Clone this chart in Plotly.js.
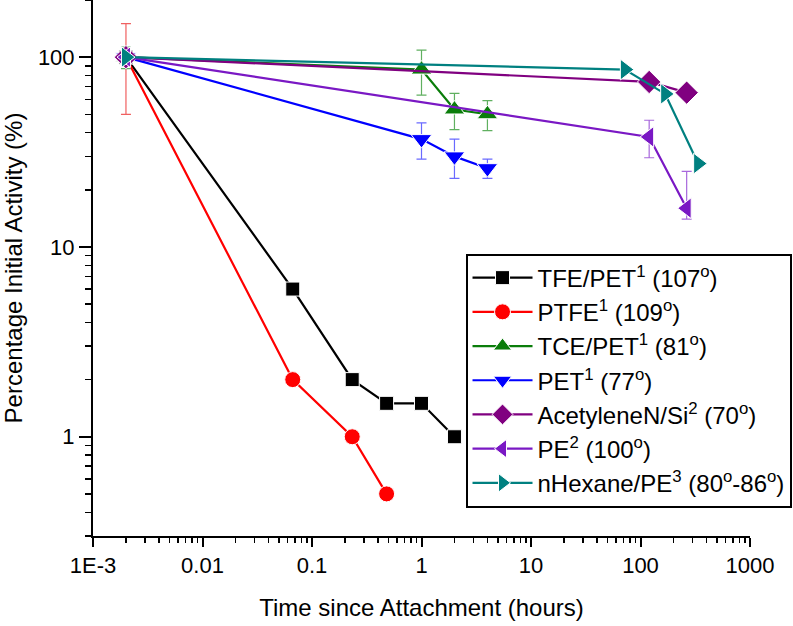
<!DOCTYPE html>
<html>
<head>
<meta charset="utf-8">
<script src="https://cdn.plot.ly/plotly-3.0.1.min.js"></script>
<style>html,body{margin:0;padding:0;background:#fff;}#chart{width:793px;height:626px;}</style>
</head>
<body>
<div id="chart"></div>
<script>
// ---- data ----
const seriesNames = [
  'TFE/PET<sup>1</sup> (107<sup>o</sup>)',
  'PTFE<sup>1</sup> (109<sup>o</sup>)',
  'TCE/PET<sup>1</sup> (81<sup>o</sup>)',
  'PET<sup>1</sup> (77<sup>o</sup>)',
  'AcetyleneN/Si<sup>2</sup> (70<sup>o</sup>)',
  'PE<sup>2</sup> (100<sup>o</sup>)',
  'nHexane/PE<sup>3</sup> (80<sup>o</sup>-86<sup>o</sup>)'
];
const tfeX = [0.002, 0.0667, 0.233, 0.48, 1, 2];
const tfeY = [100, 6, 2, 1.5, 1.5, 1];
const ptfeX = [0.002, 0.0667, 0.233, 0.48];
const ptfeY = [100, 2, 1, 0.5];
const ptfeErr = [50, 0, 0, 0];
const tceX = [0.002, 1, 2, 4];
const tceY = [100, 86, 53, 50];
const tceErr = [13, 23, 11.5, 9];
const petX = [0.002, 1, 2, 4];
const petY = [100, 37, 30, 26];
const petErr = [4, 8, 7, 3];
const acetX = [0.002, 120, 264];
const acetY = [100, 74, 65];
const acetErr = [0, 3, 0];
const peX = [0.002, 120, 264];
const peY = [100, 38, 16];
const peErrPlus = [3, 8.5, 9];
const peErrMinus = [3, 8.5, 2];
const hexX = [0.002, 72, 168, 336];
const hexY = [100, 86, 64, 27.5];

const xTickVals = [0.001, 0.01, 0.1, 1, 10, 100, 1000];
const xTickText = ['1E-3', '0.01', '0.1', '1', '10', '100', '1000'];
const yTickVals = [1, 10, 100];
const yTickText = ['1', '10', '100'];

// minor tick positions (2..9 in each decade)
function minorTicks(lo, hi) {
  const out = [];
  for (let e = lo; e <= hi; e++) {
    for (let d = 2; d <= 9; d++) out.push(d * Math.pow(10, e));
  }
  return out;
}

const FONT = 'Arial, "Liberation Sans", Helvetica, sans-serif';

function tr(name, x, y, color, symbol, size, err, errColor, errMinus) {
  const t = {
    type: 'scatter', mode: 'lines+markers', name: name, x: x, y: y,
    line: {color: color, width: 2.2},
    marker: {color: color, symbol: symbol, size: size, line: {color: '#ffffff', width: 1}}
  };
  if (err) {
    t.error_y = {type: 'data', array: err, visible: true, color: errColor, thickness: 1.2, width: 5};
    if (errMinus) { t.error_y.symmetric = false; t.error_y.arrayminus = errMinus; }
  }
  return t;
}

const traces = [
  tr(seriesNames[0], tfeX, tfeY, '#000000', 'square', 14),
  tr(seriesNames[1], ptfeX, ptfeY, '#ff0000', 'circle', 16, ptfeErr, '#f06060'),
  tr(seriesNames[2], tceX, tceY, '#0a7d0a', 'triangle-up', 18, tceErr, '#60b060'),
  tr(seriesNames[3], petX, petY, '#0000ff', 'triangle-down', 18, petErr, '#6a6aff'),
  tr(seriesNames[4], acetX, acetY, '#800080', 'diamond', 18, acetErr, '#b060b0'),
  tr(seriesNames[5], peX, peY, '#7a18c4', 'triangle-left', 18, peErrPlus, '#a868dc', peErrMinus),
  tr(seriesNames[6], hexX, hexY, '#008080', 'triangle-right', 18)
];

const layout = {
  width: 793, height: 626,
  margin: {l: 93, r: 43, t: 0, b: 90},
  paper_bgcolor: '#ffffff', plot_bgcolor: '#ffffff',
  font: {family: FONT, color: '#000000', size: 22},
  showlegend: true,
  xaxis: {
    type: 'log', range: [-3, 3],
    tickmode: 'array', tickvals: xTickVals, ticktext: xTickText,
    ticks: 'outside', ticklen: 9, tickwidth: 2, tickcolor: '#000',
    minor: {ticks: 'outside', ticklen: 5, tickwidth: 1.5, tickcolor: '#000', tickmode: 'array', tickvals: minorTicks(-3, 2), showgrid: false},
    showline: true, linewidth: 2, linecolor: '#000', mirror: false,
    showgrid: false, zeroline: false,
    tickfont: {size: 22, family: FONT},
    title: {text: 'Time since Attachment (hours)', font: {size: 24, family: FONT}, standoff: 22}
  },
  yaxis: {
    type: 'log', range: [Math.log10(0.3), Math.log10(200)],
    tickmode: 'array', tickvals: yTickVals, ticktext: yTickText,
    ticks: 'outside', ticklen: 12, tickwidth: 2, tickcolor: '#000',
    minor: {ticks: 'outside', ticklen: 6, tickwidth: 1.5, tickcolor: '#000', tickmode: 'array', tickvals: minorTicks(-1, 2), showgrid: false},
    showline: true, linewidth: 2, linecolor: '#000', mirror: false,
    showgrid: false, zeroline: false,
    tickfont: {size: 22, family: FONT},
    title: {text: 'Percentage Initial Activity (%)', font: {size: 24, family: FONT}, standoff: 12}
  },
  legend: {
    x: 0.567, y: 0.527, xanchor: 'left', yanchor: 'top',
    bgcolor: '#ffffff', bordercolor: '#000000', borderwidth: 2,
    font: {size: 24, family: FONT}, itemwidth: 60, tracegroupgap: 0
  }
};

Plotly.newPlot('chart', traces, layout, {displayModeBar: false, staticPlot: true});
</script>
</body>
</html>
